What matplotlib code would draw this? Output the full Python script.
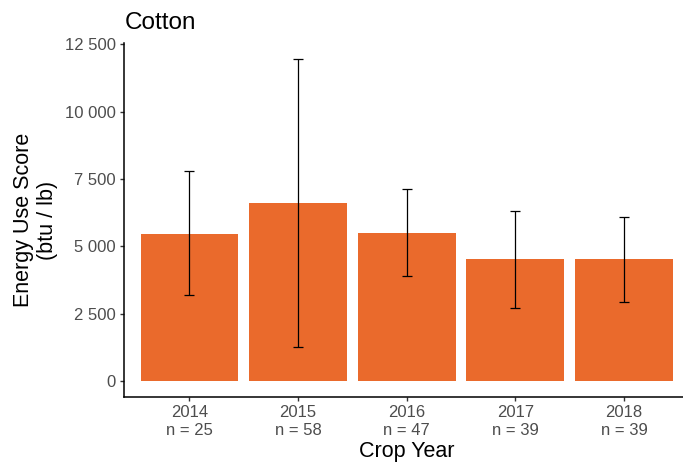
import matplotlib
matplotlib.use("Agg")
import matplotlib.pyplot as plt
from matplotlib.ticker import FuncFormatter

# --------------------
# Data
# --------------------
years = ["2014", "2015", "2016", "2017", "2018"]
counts = [25, 58, 47, 39, 39]
scores = [5450, 6600, 5490, 4515, 4515]
err_low = [3180, 1260, 3895, 2720, 2940]
err_high = [7790, 11945, 7120, 6320, 6085]

bar_color = "#EA6A2C"

plt.rcParams["font.family"] = ["Liberation Sans", "DejaVu Sans"]

fig = plt.figure(figsize=(6.83, 4.68), dpi=100)
ax = fig.add_axes([0.182, 0.1515, 0.827, 0.7558])

x = list(range(len(years)))
ax.bar(x, scores, width=0.9, color=bar_color, zorder=1)

lower = [s - lo for s, lo in zip(scores, err_low)]
upper = [hi - s for s, hi in zip(scores, err_high)]
ax.errorbar(x, scores, yerr=[lower, upper], fmt="none", ecolor="black",
            elinewidth=0.9, capsize=3.6, capthick=0.9, zorder=2)

# --------------------
# Axes styling (ggplot classic look)
# --------------------
ax.set_xlim(-0.6, len(years) - 0.4)
ax.set_ylim(-597, 12540)
ax.set_yticks([0, 2500, 5000, 7500, 10000, 12500])
ax.yaxis.set_major_formatter(FuncFormatter(lambda v, p: f"{int(v):,}".replace(",", " ")))
ax.set_xticks(x)
ax.set_xticklabels([f"{y}\nn = {n}" for y, n in zip(years, counts)])

for side in ["top", "right"]:
    ax.spines[side].set_visible(False)
for side in ["left", "bottom"]:
    ax.spines[side].set_linewidth(1.1)
    ax.spines[side].set_color("black")

ax.tick_params(axis="both", length=3, width=1, color="#333333",
               labelsize=12, labelcolor="#4D4D4D", pad=3)

ax.set_xlabel("Crop Year", fontsize=15.5, color="black", labelpad=2)
ax.set_ylabel("Energy Use Score\n(btu / lb)", fontsize=15.5, color="black",
              labelpad=5, linespacing=1.2)
ax.set_title("Cotton", loc="left", fontsize=17.5, color="black", pad=10.5)

fig.savefig("out.png", dpi=100)
